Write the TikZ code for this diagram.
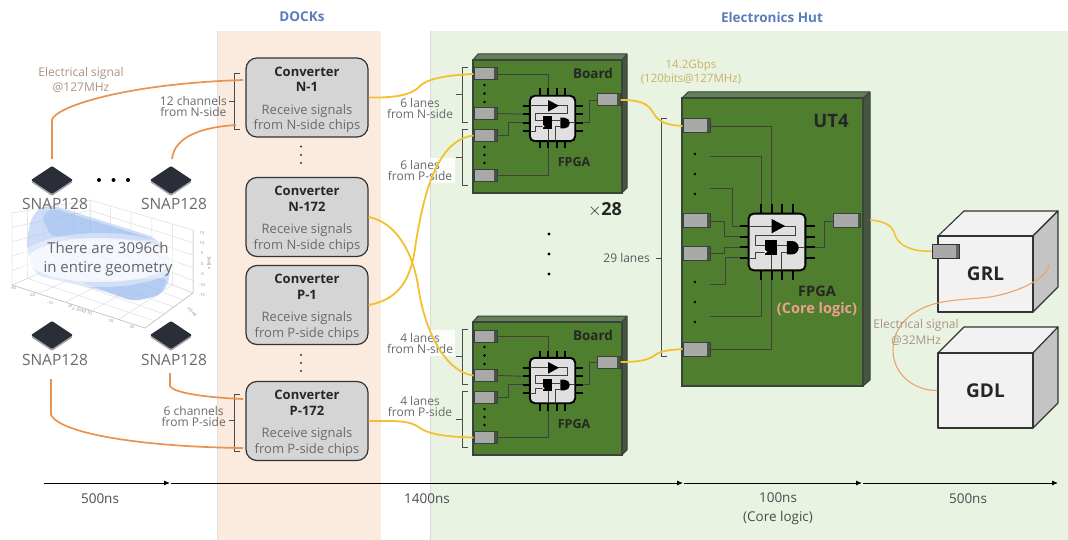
\documentclass[tikz,border=0pt]{standalone}
\usepackage{fontspec}
\setmainfont{Open Sans}
\usetikzlibrary{arrows.meta,positioning,calc,shapes.geometric}
\definecolor{dockbg}{HTML}{FBEBDF}
\definecolor{hutbg}{HTML}{E9F3E2}
\definecolor{headblue}{HTML}{5A7DBB}
\definecolor{boardgreen}{HTML}{4F7E2E}
\definecolor{boardtop}{HTML}{647F58}
\definecolor{boardside}{HTML}{46553F}
\definecolor{edgedark}{HTML}{38433A}
\definecolor{convgray}{HTML}{D5D5D5}
\definecolor{portgray}{HTML}{A9A9A9}
\definecolor{txtgray}{HTML}{6A6A6A}
\definecolor{sigyellow}{HTML}{F4C02F}
\definecolor{sigorange}{HTML}{E8934F}
\definecolor{elecbrown}{HTML}{AC9484}
\definecolor{gbpsgold}{HTML}{C9B264}
\definecolor{corepink}{HTML}{EBA08F}
\definecolor{chipdark}{HTML}{2A2E38}
\definecolor{fanblue}{HTML}{9DBDF0}
\newcommand{\convlabel}[2]{\rule{0pt}{14pt}\textbf{\textcolor{black!85}{Converter}}\\\textbf{\textcolor{black!85}{#1}}\\[7pt]Receive signals\\from #2-side chips}
\tikzset{
  converter/.style={draw=black!80,line width=1.2pt,fill=convgray,rounded corners=11pt,minimum width=122pt,minimum height=79pt,inner sep=0pt,align=center,font=\fontsize{13}{15.5}\selectfont,text=txtgray},
  port/.style={draw=edgedark,line width=1pt,fill=portgray,minimum width=23pt,minimum height=12pt,inner sep=0pt,
    path picture={\fill[boardside] ([xshift=-3pt]path picture bounding box.south east) rectangle (path picture bounding box.north east);}},
  bigport/.style={port,minimum width=27pt,minimum height=14pt},
  snapchip/.style={diamond,fill=chipdark,minimum width=42pt,minimum height=28pt,inner sep=0pt,rounded corners=1pt,
    preaction={fill=gray!70,transform canvas={yshift=-2pt}}},
  snaptext/.style={font=\fontsize{15.5}{16}\selectfont,text=txtgray,inner sep=0pt},
  note/.style={font=\fontsize{12}{11}\selectfont,text=txtgray,align=center,inner sep=0pt},
  wire/.style={draw=black!75,line width=.9pt},
  bracket/.style={draw=black!70,line width=.8pt},
  optical/.style={draw=sigyellow,line width=1.8pt},
  elecline/.style={draw=sigorange,line width=1.7pt},
  timeline/.style={draw=black,line width=.9pt,-{Latex[length=6pt,width=5pt]}},
  timetext/.style={font=\fontsize{13.5}{19}\selectfont,text=black!70,align=center,inner sep=0pt},
  boxface/.style={draw=black!80,line width=1.1pt,line join=round},
  pics/fpgachip/.style={code={
    \draw[black,line width=1.7pt] (-12.75,-30) -- (-12.75,30) (-4.25,-30) -- (-4.25,30) (4.25,-30) -- (4.25,30) (12.75,-30) -- (12.75,30);
    \draw[black,line width=1.7pt] (-30,-12.75) -- (30,-12.75) (-30,-4.25) -- (30,-4.25) (-30,4.25) -- (30,4.25) (-30,12.75) -- (30,12.75);
    \draw[black,line width=1.9pt,fill=black!12,rounded corners=5pt] (-22.7,-22.7) rectangle (22.7,22.7);
    \draw[black!75,line width=.8pt] (-22.7,-12.75) -- (14.4,-12.75) -- (14.4,-5) -- (-17,-5) -- (-17,2.4) -- (7.8,2.4);
    \draw[black!75,line width=.8pt] (-22.7,12.75) -- (-17,12.75) -- (-17,8.3) -- (-10,8.3);
    \draw[black!75,line width=.8pt] (-4.25,10) -- (-4.25,22.7) (3.2,22.7) -- (3.2,8.4) -- (7.8,8.4) (17,4.3) -- (22.7,4.3);
    \fill[black] (-4.3,-18.4) -- (-4.3,-6.9) -- (6.4,-12.8) -- cycle;
    \fill[black] (-10,-2) rectangle (-.3,10.4);
    \fill[white] (-10,6.3) -- (-10,9.3) -- (-7.8,7.8) -- cycle;
    \fill[black] (7.8,-.8) -- (12,-.8) arc (-90:90:5.35) -- (7.8,9.9) -- cycle;
    \coordinate (-t1) at (-12.75,-30); \coordinate (-t2) at (-4.25,-30);
    \coordinate (-b1) at (-12.75,30); \coordinate (-b2) at (-4.25,30);
    \coordinate (-l1) at (-30,-12.75); \coordinate (-l2) at (-30,-4.25);
    \coordinate (-l3) at (-30,4.25); \coordinate (-l4) at (-30,12.75);
    \coordinate (-r3) at (30,4.25);
  }},
  % board drawn at the place of the upper one
  pics/boardpic/.style={code={
    \fill[boardtop] (473,60) -- (478,54) -- (627,54) -- (622,60) -- cycle;
    \fill[boardside] (622,60) -- (627,54) -- (627,188) -- (622,193) -- cycle;
    \draw[edgedark,line width=1pt,line join=round] (473,60) -- (478,54) -- (627,54) -- (627,188) -- (622,193) (622,60) -- (627,54);
    \draw[edgedark,line width=1.2pt,fill=boardgreen] (473,60) rectangle (622,193);
    \node[port] (-p1) at (485.5,74) {};
    \node[port] (-p2) at (485.5,113.5) {};
    \node[port] (-p3) at (485.5,135.5) {};
    \node[port] (-p4) at (485.5,175.5) {};
    \node[port] (-out) at (608.5,100) {};
    \pic (-chip) at (552.5,118.5) {fpgachip};
    \draw[wire] (-p1.east) -| (-chip-t2);
    \draw[wire] (-p2.east) -- (-chip-l2);
    \draw[wire] (-p3.east) -- ++(11,0) |- (-chip-l3);
    \draw[wire] (-p4.east) -| (-chip-b2);
    \draw[wire] (-out.west) -- ++(-7,0) |- (-chip-r3);
    \fill[black] (484.5,85) circle (1.3pt) (484.5,93.5) circle (1.3pt) (484.5,102) circle (1.3pt);
    \fill[black] (484.5,147) circle (1.3pt) (484.5,155) circle (1.3pt) (484.5,163) circle (1.3pt);
    \node[font=\fontsize{13.5}{14}\selectfont\bfseries,text=black!85,inner sep=0pt] (-title) at (593,73) {Board};
    \node[font=\fontsize{12.5}{13}\selectfont\bfseries,text=black!85,inner sep=0pt] (-fpga) at (574,162) {FPGA};
    \draw[bracket] (468,67) -- (462,67) -- (462,122) -- (468,122) (462,94.5) -- (456,94.5);
    \draw[bracket] (468,129) -- (462,129) -- (462,185) -- (468,185) (462,157) -- (456,157);
  }},
}
\begin{document}
\begin{tikzpicture}[x=1pt,y=-1pt]
  \useasboundingbox (0,0) rectangle (1068,540);
  \fill[white] (0,0) rectangle (1068,540);
  \fill[dockbg] (217,31) rectangle (381,540);
  \draw[black!12,line width=.6pt] (217,31) -- (217,540);
  \fill[hutbg] (430,31) rectangle (1068,540);
  \draw[black!15,line width=.6pt] (430,31) -- (430,540);
  \node[font=\fontsize{13.5}{14}\selectfont\bfseries,text=headblue] (dockhead) at (302,17) {DOCKs};
  \node[font=\fontsize{13.5}{14}\selectfont\bfseries,text=headblue] (huthead) at (772,17) {Electronics Hut};

  % geometry plot
  \coordinate (pltA) at (12,213); \coordinate (pltB) at (90,200); \coordinate (pltC) at (193,230);
  \coordinate (pltD) at (12,285); \coordinate (pltE) at (90,252); \coordinate (pltF) at (193,293);
  \coordinate (pltG) at (145,328);
  \foreach \t in {0,.2,.4,.6,.8,1} {
    \draw[black!13,line width=.5pt] ($(pltA)!\t!(pltB)$) -- ($(pltD)!\t!(pltE)$) -- ($(pltF)!1-\t!(pltG)$);
    \draw[black!13,line width=.5pt] ($(pltB)!\t!(pltC)$) -- ($(pltE)!\t!(pltF)$) -- ($(pltD)!\t!(pltG)$);
    \draw[black!13,line width=.5pt] ($(pltA)!\t!(pltD)$) -- ($(pltB)!\t!(pltE)$) -- ($(pltC)!\t!(pltF)$);
  }
  \draw[black!25,line width=.5pt] (pltD) -- (pltG) -- (pltF) -- (pltC);
  \fill[fanblue,opacity=.5,rounded corners=10pt] (32,214) -- (45,205) -- (55,206) -- (157,238) -- (172,262) -- (166,292) -- (135,302) -- (100,290) -- (34,275) -- (26,243) -- cycle;
  \fill[fanblue,opacity=.55,rounded corners=6pt] (42,216) -- (52,208) -- (155,240) -- (100,240) -- (50,236) -- cycle;
  \fill[fanblue,opacity=.5,rounded corners=6pt] (80,282) -- (168,278) -- (160,296) -- (133,301) -- cycle;
  \fill[white,opacity=.4] (100,260) ellipse (80pt and 27pt);
  \fill[white,opacity=.65] (100,260) ellipse (72pt and 22pt);
  \node[font=\fontsize{15}{19}\selectfont,text=black!60,align=center,inner sep=0pt] (geomtext) at (108,259.5) {There are 3096ch\\in entire geometry};
  \foreach \px/\py/\plab in {202/233/15,202/243/10,202/253/5,202/264/0,202/274/-5,202/285/-10,202/295/-15,13/288/-30,32/295/-20,50/303/-10,111/321/20,132/327/30} {
    \node[font=\fontsize{4}{4}\selectfont,text=black!45,inner sep=0pt] at (\px,\py) {\plab};
  }
  \node[font=\fontsize{4.5}{5}\selectfont,text=black!50,inner sep=0pt,rotate=-20] (plotx) at (80,310) {$\phi_z$ [cm] 10};
  \node[font=\fontsize{4.5}{5}\selectfont,text=black!50,inner sep=0pt,rotate=90] (plotz) at (209,263) {x [cm]};
  \node[font=\fontsize{4}{5}\selectfont,text=black!50,inner sep=0pt,rotate=-50] (ploty) at (192,312) {y [cm]};

  % readout chips
  \node[snapchip] (snapA) at (52,180) {};
  \node[snapchip] (snapB) at (171,180) {};
  \node[snapchip] (snapC) at (52,335) {};
  \node[snapchip] (snapD) at (171,335) {};
  \node[snaptext] (snapAtext) at (55,204) {SNAP128};
  \node[snaptext] (snapBtext) at (174,204) {SNAP128};
  \node[snaptext] (snapCtext) at (55,360) {SNAP128};
  \node[snaptext] (snapDtext) at (174,360) {SNAP128};
  \fill[black] (99,180) circle (2pt) (113.5,180) circle (2pt) (128,180) circle (2pt);

  % converters
  \node[converter] (convN1) at (307,97.5) {\convlabel{N-1}{N}};
  \node[converter] (convN172) at (307,217) {\convlabel{N-172}{N}};
  \node[converter] (convP1) at (307,305) {\convlabel{P-1}{P}};
  \node[converter] (convP172) at (307,421) {\convlabel{P-172}{P}};
  \fill[black!80] (301,146.5) circle (1.2pt) (301,155) circle (1.2pt) (301,163) circle (1.2pt);
  \fill[black!80] (301,355) circle (1.2pt) (301,363) circle (1.2pt) (301,371) circle (1.2pt);

  % brackets and their labels
  \draw[bracket] (240,73) -- (234,73) -- (234,129) -- (240,129) (234,101) -- (229,101);
  \draw[bracket] (240,394) -- (234,394) -- (234,451) -- (240,451) (234,420) -- (229,420);
  \node[note,anchor=east] (chN) at (227,107) {12 channels\\from N-side};
  \node[note,anchor=east] (chP) at (226,416) {6 channels\\from P-side};
  \fill[white,opacity=.85] (386,158) rectangle (455,183);
  \fill[white,opacity=.85] (386,330) rectangle (455,356);
  \node[note] (laneA) at (420,108.5) {6 lanes\\from N-side};
  \node[note] (laneB) at (420,170.5) {6 lanes\\from P-side};
  \node[note] (laneC) at (420,343.5) {4 lanes\\from N-side};
  \node[note] (laneD) at (420,406.5) {4 lanes\\from P-side};

  % boards
  \pic (boardA) at (0,0) {boardpic};
  \pic (boardB) at (0,262) {boardpic};
  \node[font=\fontsize{18}{19}\selectfont\bfseries,text=black!85,inner sep=0pt] (times) at (605,210) {$\times$28};
  \fill[black] (549,234) circle (1.7pt) (549,254) circle (1.7pt) (549,274) circle (1.7pt);

  % UT4
  \fill[boardtop] (682,98) -- (688,92) -- (870,92) -- (863,98) -- cycle;
  \fill[boardside] (863,98) -- (870,92) -- (870,380) -- (863,386) -- cycle;
  \draw[edgedark,line width=1pt,line join=round] (682,98) -- (688,92) -- (870,92) -- (870,380) -- (863,386) (863,98) -- (870,92);
  \draw[edgedark,line width=1.3pt,fill=boardgreen] (682,98) rectangle (863,386);
  \node[bigport] (utp1) at (696.5,126) {};
  \node[bigport] (utp2) at (696.5,221) {};
  \node[bigport] (utp3) at (696.5,253.5) {};
  \node[bigport] (utp4) at (696.5,349) {};
  \node[bigport] (utout) at (847,221) {};
  \coordinate (utstubA) at (710,156); \coordinate (utstubB) at (710,188);
  \coordinate (utstubC) at (710,284); \coordinate (utstubD) at (710,316);
  \pic[scale=1.25] (utchip) at (777,242) {fpgachip};
  \draw[wire] (utp1.east) -| (utchip-t2);
  \draw[wire] (utstubA) -| (utchip-t1);
  \draw[wire] (utstubB) -- (732,188) |- (utchip-l1);
  \draw[wire] (utp2.east) -- (724,221) |- (utchip-l2);
  \draw[wire] (utp3.east) -- (724,253.5) |- (utchip-l3);
  \draw[wire] (utstubC) -- (725,284) |- (utchip-l4);
  \draw[wire] (utstubD) -| (utchip-b1);
  \draw[wire] (utp4.east) -| (utchip-b2);
  \draw[wire] (utout.west) -- ++(-9,0) |- (utchip-r3);
  \fill[black] (695,154) circle (1.4pt) (695,174) circle (1.4pt) (695,194) circle (1.4pt);
  \fill[black] (695,282) circle (1.4pt) (695,302) circle (1.4pt) (695,322) circle (1.4pt);
  \node[font=\fontsize{18.5}{19}\selectfont\bfseries,text=black!85,inner sep=0pt] (uttitle) at (831,121) {UT4};
  \node[font=\fontsize{14.5}{15}\selectfont\bfseries,text=black!85,inner sep=0pt] (utfpga) at (817,291) {FPGA};
  \node[font=\fontsize{14.5}{15}\selectfont\bfseries,text=corepink,inner sep=0pt] (utcore) at (817,310) {(Core logic)};
  \draw[bracket] (667,118) -- (661,118) -- (661,356) -- (667,356) (661,258) -- (656,258);
  \node[note,text=black!65,anchor=east] (lanes29) at (650,258) {29 lanes};
  \node[font=\fontsize{11.5}{14}\selectfont,text=gbpsgold,align=center,inner sep=0pt] (rate) at (691,72) {14.2Gbps\\(120bits@127MHz)};

  % GRL and GDL
  \draw[boxface,fill=black!5] (938,236) -- (964,211) -- (1058,211) -- (1033,236) -- cycle;
  \draw[boxface,fill=black!23] (1033,236) -- (1058,211) -- (1058,287) -- (1033,312) -- cycle;
  \node[boxface,fill=black!5,minimum width=95pt,minimum height=76pt,inner sep=0pt,font=\fontsize{19}{20}\selectfont\bfseries,text=black!85] (grl) at (985.5,274) {GRL};
  \draw[boxface,fill=black!5] (938,353) -- (964,327) -- (1058,327) -- (1033,353) -- cycle;
  \draw[boxface,fill=black!23] (1033,353) -- (1058,327) -- (1058,403) -- (1033,428) -- cycle;
  \node[boxface,fill=black!5,minimum width=95pt,minimum height=75pt,inner sep=0pt,font=\fontsize{19}{20}\selectfont\bfseries,text=black!85] (gdl) at (985.5,390.5) {GDL};
  \node[bigport,draw=black!80,path picture={\fill[black!60] ([xshift=-3pt]path picture bounding box.south east) rectangle (path picture bounding box.north east);}] (grlport) at (945.5,251) {};

  % signal lines
  \coordinate (sigAend) at (243,80); \coordinate (sigBend) at (236,125);
  \coordinate (sigCend) at (243,399); \coordinate (sigDend) at (243,448);
  \coordinate (sigCstart) at (170,373); \coordinate (sigDstart) at (51,379);
  \coordinate (grlend) at (1049,265);
  \draw[elecline,shorten <=7pt] (snapA.north) -- (52,120) .. controls (54,108) and (120,84) .. (sigAend);
  \draw[elecline,shorten <=7pt] (snapB.north) .. controls (175,135) and (205,127) .. (sigBend);
  \draw[elecline] (sigCstart) -- (170,386) .. controls (174,394) and (215,398) .. (sigCend);
  \draw[elecline] (sigDstart) -- (51,415) .. controls (62,435) and (150,447) .. (sigDend);
  \draw[optical] (convN1.east) .. controls (395,98) and (412,95) .. (420,86) .. controls (428,78) and (450,75) .. (boardA-p1.west);
  \draw[optical] (convN172.east) .. controls (395,222) and (412,250) .. (418,285) .. controls (424,330) and (445,372) .. (boardB-p2.west);
  \draw[optical] (convP1.east) .. controls (395,300) and (408,285) .. (414,255) .. controls (422,200) and (435,140) .. (boardA-p3.west);
  \draw[optical] (convP172.east) .. controls (395,421) and (410,420) .. (420,428) .. controls (430,435) and (450,437) .. (boardB-p4.west);
  \draw[optical] (boardA-out.east) .. controls (640,100) and (648,103) .. (654,114) .. controls (660,124) and (670,125) .. (utp1.west);
  \draw[optical] (boardB-out.east) .. controls (635,362) and (648,361) .. (655,355) .. controls (662,350) and (672,350) .. (utp4.west);
  \draw[optical,line width=1.5pt] (870,220) .. controls (885,221) and (893,226) .. (895,235) .. controls (899,247) and (915,252) .. (grlport.west);
  \draw[draw=sigorange!85,line width=1.1pt] (grlend) .. controls (1047,278) and (1020,292) .. (990,297) .. controls (965,300) and (945,299) .. (925,307) .. controls (900,318) and (893,335) .. (893,350) .. controls (893,375) and (915,391) .. (gdl.west);
  \node[font=\fontsize{12}{15.5}\selectfont,text=elecbrown,align=center,inner sep=0pt] (elecA) at (81,80) {Electrical signal\\@127MHz};
  \node[font=\fontsize{12}{15.5}\selectfont,text=elecbrown,align=center,inner sep=0pt] (elecB) at (916,332.5) {Electrical signal\\@32MHz};

  % timing
  \coordinate (timeA) at (44,483); \coordinate (timeB) at (170,483); \coordinate (timeC) at (683,483);
  \coordinate (timeD) at (862,483); \coordinate (timeE) at (1058,483);
  \draw[timeline] (timeA) -- (timeB);
  \draw[timeline,shorten <=1pt] (timeB) -- (timeC);
  \draw[timeline,shorten <=1pt] (timeC) -- (timeD);
  \draw[timeline,shorten <=1pt] (timeD) -- (timeE);
  \node[timetext] (timetextA) at (100,499) {500ns};
  \node[timetext] (timetextB) at (427,499) {1400ns};
  \node[timetext] (timetextC) at (778,508.5) {100ns\\(Core logic)};
  \node[timetext] (timetextD) at (968,499) {500ns};
\end{tikzpicture}
\end{document}
